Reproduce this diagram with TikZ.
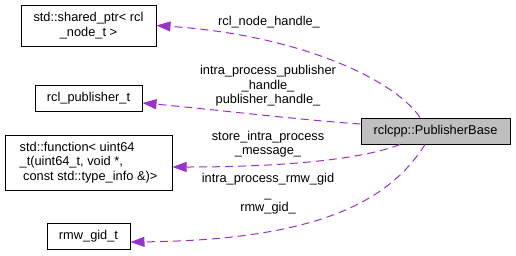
\documentclass[tikz,border=0pt]{standalone}
\usepackage{fontspec}
\setmainfont{Liberation Sans}
\usetikzlibrary{arrows.meta,calc}
\definecolor{edgepurple}{HTML}{9A32CD}
\definecolor{boxgrey}{HTML}{BFBFBF}
\begin{document}
\begin{tikzpicture}[x=1pt,y=-1pt,
  every node/.style={font=\fontsize{12.8pt}{14.5pt}\selectfont, inner sep=0pt},
  classbox/.style={draw=black, line width=1pt, fill=white, align=center},
  mainbox/.style={classbox, fill=boxgrey},
  member/.style={draw=edgepurple, line width=1pt, dash pattern=on 8pt off 5pt,
    -{Triangle[length=14pt,width=10pt,fill=edgepurple]}},
  edgelabel/.style={align=center}]
\useasboundingbox (0,0) rectangle (516,255);

% classes
\node[classbox, minimum width=135pt, minimum height=41pt] (sp) at (88.5,25.5)
  {std::shared\_ptr< rcl\\\_node\_t >};
\node[classbox, minimum width=107pt, minimum height=26pt] (rp) at (88.5,98)
  {rcl\_publisher\_t};
\node[classbox, align=left, minimum width=167pt, minimum height=55pt] (fn) at (88.5,162.5)
  {std::function< uint64\\\_t(uint64\_t, void *,\\\hspace*{3.5pt}const std::type\_info \&)>};
\node[classbox, minimum width=83pt, minimum height=26pt] (rg) at (88.5,236)
  {rmw\_gid\_t};
\node[mainbox, minimum width=149pt, minimum height=26pt] (pb) at (435.5,131)
  {rclcpp::PublisherBase};

% member relations
\draw[member] ([xshift=-15.5pt]pb.north) .. controls (395,80) and (300,35) .. (sp.east);
\draw[member] ([yshift=7pt]pb.west) .. controls (300,120) and (200,108) .. ([yshift=-5pt]rp.east);
\draw[member] ([xshift=-35.5pt]pb.south) .. controls (360,160) and (280,167) .. ([yshift=-4.5pt]fn.east);
\draw[member] ([xshift=-10.5pt]pb.south) .. controls (390,200) and (320,240) .. ([yshift=-6pt]rg.east);

% member names
\node[edgelabel] (l1) at (269,22) {rcl\_node\_handle\_};
\node[edgelabel] (l2) at (268,86) {intra\_process\_publisher\\\_handle\_\\publisher\_handle\_};
\node[edgelabel] (l3) at (268,144) {store\_intra\_process\\\_message\_};
\node[edgelabel] (l4) at (268,194) {intra\_process\_rmw\_gid\\\_\\rmw\_gid\_};
\end{tikzpicture}
\end{document}
